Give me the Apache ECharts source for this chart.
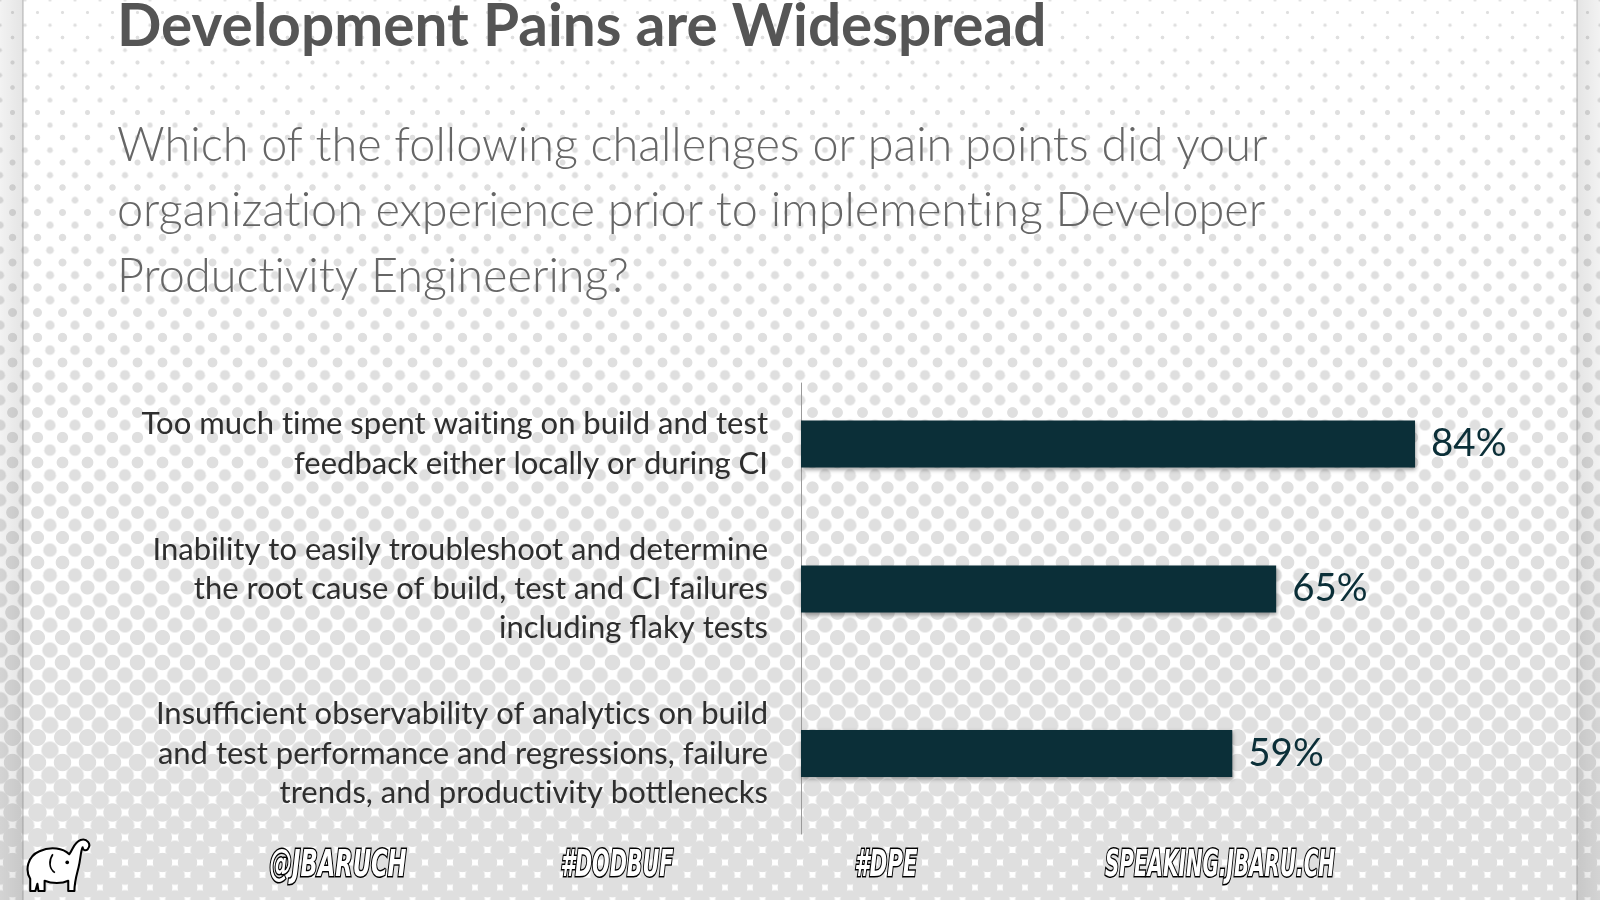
<!DOCTYPE html>
<html>
<head>
<meta charset="utf-8">
<script src="https://cdn.jsdelivr.net/npm/echarts@6/dist/echarts.min.js"></script>
<style>
  html, body { margin: 0; padding: 0; width: 1600px; height: 900px; overflow: hidden; background: #ffffff; }
  #bg { position: absolute; left: 0; top: 0; width: 1600px; height: 900px; }
  .edge { position: absolute; top: 0; height: 900px; width: 24px; }
  #chart { position: absolute; left: 0; top: 0; width: 1600px; height: 900px; }
</style>
</head>
<body>
<div id="bg"></div>
<div class="edge" style="left:0;background:linear-gradient(to right, rgba(0,0,0,0.05), rgba(0,0,0,0.10) 90%, rgba(120,120,120,0.55) 96%, rgba(0,0,0,0) 100%);"></div>
<div class="edge" style="left:1576px;background:linear-gradient(to left, rgba(0,0,0,0.05), rgba(0,0,0,0.10) 90%, rgba(120,120,120,0.55) 96%, rgba(0,0,0,0) 100%);"></div>
<div id="chart"></div>
<script>
// ---- data ----
const titleText = "Development Pains are Widespread";
const subtitleLines = [
  "Which of the following challenges or pain points did your",
  "organization experience prior to implementing Developer",
  "Productivity Engineering?"
];
const categories = [
  "Too much time spent waiting on build and test\nfeedback either locally or during CI",
  "Inability to easily troubleshoot and determine\nthe root cause of build, test and CI failures\nincluding flaky tests",
  "Insufficient observability of analytics on build\nand test performance and regressions, failure\ntrends, and productivity bottlenecks"
];
const values = [84, 65, 59];
const footerTags = ["@JBARUCH", "#DODBUF", "#DPE", "SPEAKING.JBARU.CH"];

// avoid Lato's "ti" ligature (not used in the original)
const noTi = s => s.replace(/ti/g, 't\u200Ci');

// ---- halftone background (decoration) ----
(function () {
  const bg = document.getElementById('bg');
  const pitch = 25;
  for (let k = 0; k < 900 / pitch; k++) {
    const y = k * pitch + pitch / 2;
    const r = 1.0 + 0.0095 * y;
    const c = '#dfdfdf';
    const g = `radial-gradient(circle at 12.5px 12.5px, ${c} ${r}px, rgba(223,223,223,0) ${r + 0.9}px)`;
    const d = document.createElement('div');
    d.style.cssText = `position:absolute;left:0;top:${k * pitch}px;width:1600px;height:${pitch}px;` +
      `background-image:${g},${g};background-size:25px 25px,25px 25px;background-position:0 0,12.5px 12.5px;`;
    bg.appendChild(d);
  }
})();

const chart = echarts.init(document.getElementById('chart'));

// layout bands for the three bars
const bands = [[383, 122], [505, 168], [673, 161]];
const grids = [], xAxes = [], yAxes = [], series = [];
bands.forEach((b, i) => {
  grids.push({ left: 801, right: 68, top: b[0], height: b[1] });
  xAxes.push({ gridIndex: i, type: 'value', min: 0, max: 100, show: false });
  yAxes.push({
    gridIndex: i, type: 'category', data: [noTi(categories[i])],
    axisLine: { show: true, lineStyle: { color: '#9a9a9a', width: 1 } },
    axisTick: { show: false },
    axisLabel: {
      margin: 33, align: 'right', fontFamily: 'Lato', fontSize: 31, lineHeight: 39.3,
      color: '#2e2e2e', padding: [9, 0, 0, 0]
    }
  });
  series.push({
    type: 'bar', xAxisIndex: i, yAxisIndex: i, data: [values[i]], barWidth: 47,
    itemStyle: {
      color: '#0b2f38', shadowColor: 'rgba(0,0,0,0.35)', shadowBlur: 4, shadowOffsetY: 2, shadowOffsetX: 1
    },
    label: {
      show: true, position: 'right', distance: 16, formatter: '{c}%',
      fontFamily: 'Lato', fontSize: 38.5, color: '#0b2f38'
    },
    silent: true, animation: false
  });
});

// footer graphics
const footerX = [338, 617, 886, 1220];
const footerW = [137, 113, 63, 230];
const footerFont = 'italic bold 38px "DejaVu Sans Condensed"';
const mctx = document.createElement('canvas').getContext('2d');
mctx.font = footerFont;
const graphic = footerTags.map((t, i) => ({
  type: 'text', x: footerX[i], y: 866, scaleX: footerW[i] / mctx.measureText(t).width,
  style: {
    text: t, x: 0, y: 0, align: 'center', verticalAlign: 'middle',
    font: footerFont,
    fill: '#ffffff', stroke: '#000000', lineWidth: 3,
    shadowColor: '#000', shadowOffsetX: 2, shadowOffsetY: 2, shadowBlur: 0
  },
  silent: true
}));

const elephantSvg = '<svg xmlns="http://www.w3.org/2000/svg" width="72" height="56" viewBox="0 0 72 56">' +
  '<path d="M8,52 L8,40 C3,32 5,18 17,13 C28,8 40,10 46,16 C50,10 51,4 57,2 C63,0 68,6 64,11 C62,13 59,12 59,9 C57,13 57,21 55,29 C53,37 51,43 51,52 L45,52 L45,42 C39,45 29,45 22,42 L22,52 L16,52 L15,45 L13,52 Z" fill="#fff" stroke="#000" stroke-width="2" stroke-linejoin="round"/>' +
  '<path d="M30,16 C26,22 26,30 32,34" fill="none" stroke="#000" stroke-width="1.6"/>' +
  '<circle cx="44" cy="24" r="1.8" fill="#000"/></svg>';
graphic.push({
  type: 'image', x: 22, y: 838,
  style: { image: 'data:image/svg+xml;charset=utf-8,' + encodeURIComponent(elephantSvg), width: 74, height: 57 },
  silent: true
});

chart.setOption({
  animation: false,
  title: [
    {
      text: titleText, left: 112, top: -7,
      textStyle: { fontFamily: 'Lato', fontWeight: 'bold', fontSize: 58.5, color: '#555555', lineHeight: 58 }
    },
    {
      text: noTi(subtitleLines.join('\n')), left: 112, top: 108,
      textStyle: { fontFamily: 'Lato', fontWeight: 300, fontSize: 46.8, color: '#666666', lineHeight: 65.5 }
    }
  ],
  grid: grids, xAxis: xAxes, yAxis: yAxes, series: series,
  graphic: graphic
});
</script>
</body>
</html>
